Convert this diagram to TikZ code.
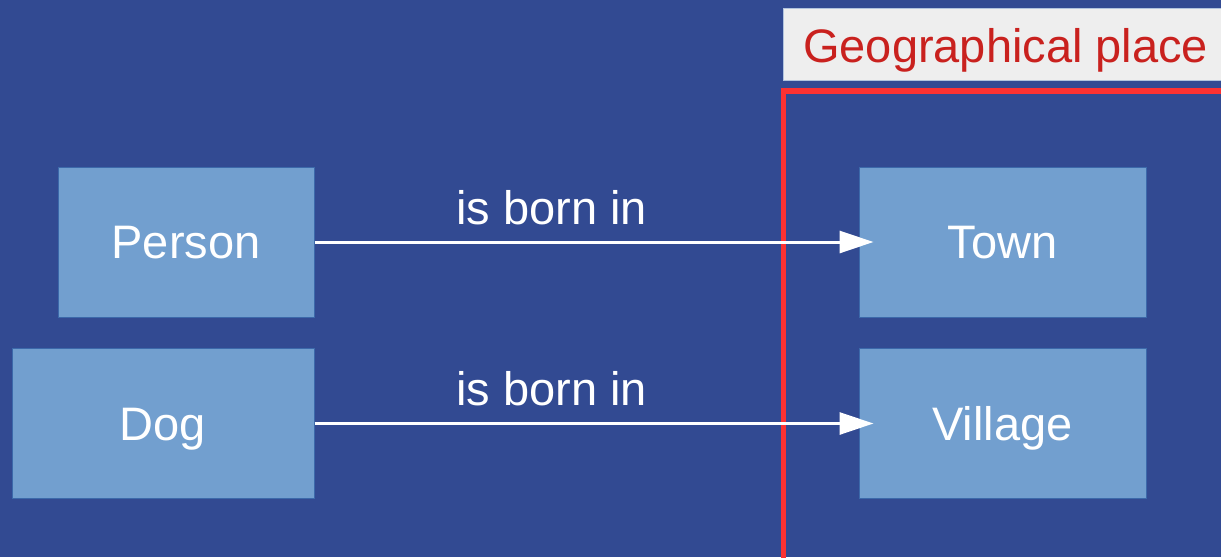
\documentclass[tikz,border=0pt]{standalone}
\usepackage{fontspec}
\setmainfont{Liberation Sans}
\usetikzlibrary{arrows.meta}

\definecolor{bgblue}{RGB}{50,74,146}
\definecolor{boxblue}{RGB}{114,159,207}
\definecolor{boxline}{RGB}{60,105,170}
\definecolor{framered}{RGB}{252,50,50}
\definecolor{labelred}{RGB}{201,33,30}
\definecolor{labelgray}{RGB}{238,238,238}

\begin{document}
\begin{tikzpicture}[x=1pt, y=-1pt,
    thing/.style={draw=boxline, line width=1pt, fill=boxblue, inner sep=0pt,
      minimum height=150pt, text=white, text height=33.7pt, text depth=0pt,
      font=\fontsize{47}{50}\selectfont},
    rel/.style={draw=white, line width=3pt, -{Triangle[length=34pt, width=22pt]}},
    rellabel/.style={text=white, anchor=base, font=\fontsize{47}{50}\selectfont}]
  \clip (0,0) rectangle (1221,557);
  \fill[bgblue] (0,0) rectangle (1221,557);
  % the place frame
  \draw[framered, line width=5.5pt] (783.5,91) rectangle (1260,600);
  \node[fill=labelgray, draw=boxline!40, line width=1pt, anchor=north west,
    minimum width=460pt, minimum height=72pt, inner sep=0pt] (placebox) at (783,8) {};
  \node[text=labelred, anchor=base west, inner sep=0pt,
    font=\fontsize{47}{50}\selectfont] (placelabel) at (803,62) {Geographical place};
  % things
  \node[thing, minimum width=256pt] (person) at (186,242) {Person};
  \node[thing, minimum width=302pt] (dog) at (163,423.5) {Dog};
  \node[thing, minimum width=287pt] (town) at (1002.5,242) {Town};
  \node[thing, minimum width=287pt] (village) at (1002.5,423.5) {Village};
  % relations
  \draw[rel] (person.east) -- ([xshift=15pt]town.west)
    node[rellabel, pos=0.424, yshift=18pt] (bornA) {is born in};
  \draw[rel] (dog.east) -- ([xshift=15pt]village.west)
    node[rellabel, pos=0.424, yshift=18.5pt] (bornB) {is born in};
\end{tikzpicture}
\end{document}
